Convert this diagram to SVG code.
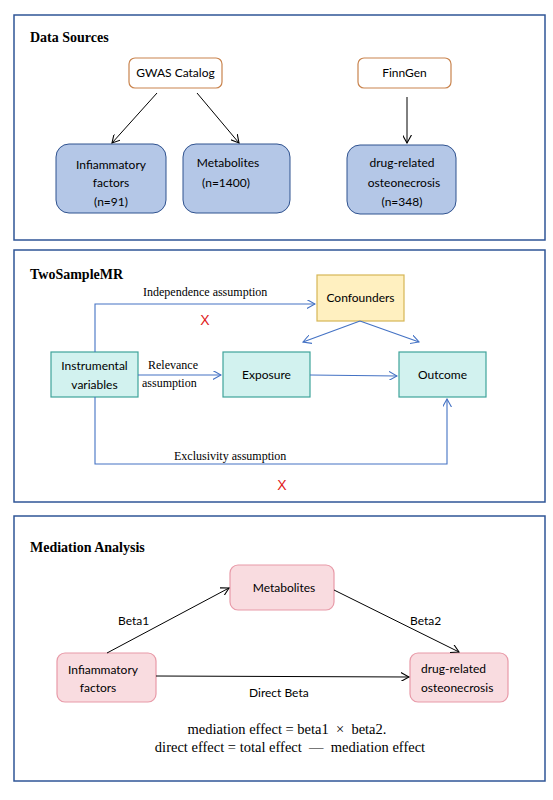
<svg xmlns="http://www.w3.org/2000/svg" width="553" height="800" viewBox="0 0 553 800">
<style>
.panel{fill:#fff;stroke:#2F5597;stroke-width:1.5}
.title{font-family:"Liberation Serif",serif;font-weight:bold;font-size:14px;fill:#000}
.sans{font-family:Lato,"Liberation Sans",sans-serif;font-size:12px;fill:#000}
.serif{font-family:"Liberation Serif",serif;font-size:12px;fill:#000}
.formula{font-family:"Liberation Serif",serif;font-size:14.5px;fill:#000}
.src{fill:#fff;stroke:#C9844E;stroke-width:1.2}
.blue{fill:#B4C7E7;stroke:#2F528F;stroke-width:1}
.cyan{fill:#D2F2EF;stroke:#3FA39A;stroke-width:1.2}
.yellow{fill:#FFF0C0;stroke:#D6B656;stroke-width:1.2}
.pink{fill:#F9DCE0;stroke:#E89AA8;stroke-width:1.2}
.blk{fill:none;stroke:#000;stroke-width:1}
.bl{fill:none;stroke:#4472C4;stroke-width:1.1}
.x{font-family:"Liberation Sans",sans-serif;font-size:14px;fill:#E0201B}
</style>
<defs>
<marker id="ak" viewBox="0 0 10 10" refX="9" refY="5" markerWidth="9" markerHeight="9" markerUnits="userSpaceOnUse" orient="auto"><path d="M0,0 L9,5 L0,10" fill="none" stroke="#000" stroke-width="1.2"/></marker>
<marker id="ab" viewBox="0 0 10 10" refX="9" refY="5" markerWidth="9" markerHeight="9" markerUnits="userSpaceOnUse" orient="auto"><path d="M0,0 L9,5 L0,10" fill="none" stroke="#4472C4" stroke-width="1.2"/></marker>
</defs>
<rect width="553" height="800" fill="#fff"/>

<g id="panel-data-sources">
<rect class="panel" x="14" y="15" width="531" height="225"/>
<text class="title" x="30" y="42">Data Sources</text>
</g>
<g id="gwas"><rect class="src" x="129" y="58" width="93" height="30" rx="6"/><text class="sans" x="175.5" y="77" text-anchor="middle">GWAS Catalog</text></g>
<g id="finngen"><rect class="src" x="358" y="58" width="93" height="30" rx="6"/><text class="sans" x="404.5" y="77" text-anchor="middle">FinnGen</text></g>
<g id="ds-inflammatory"><rect class="blue" x="56" y="144" width="110" height="69" rx="13"/>
<text class="sans" x="111" y="169" text-anchor="middle">Infiammatory</text><text class="sans" x="111" y="187" text-anchor="middle">factors</text><text class="sans" x="111" y="206" text-anchor="middle">(n=91)</text></g>
<g id="ds-metabolites"><rect class="blue" x="183" y="144" width="107" height="69" rx="13"/>
<text class="sans" x="228" y="167" text-anchor="middle">Metabolites</text><text class="sans" x="226" y="187" text-anchor="middle">(n=1400)</text></g>
<g id="ds-drug"><rect class="blue" x="347" y="145" width="109" height="69" rx="13"/>
<text class="sans" x="402" y="167" text-anchor="middle">drug-related</text><text class="sans" x="404" y="187" text-anchor="middle">osteonecrosis</text><text class="sans" x="402" y="206" text-anchor="middle">(n=348)</text></g>

<g id="panel-mr">
<rect class="panel" x="14" y="250" width="531" height="252"/>
<text class="title" x="30" y="279">TwoSampleMR</text>
</g>
<g id="confounders"><rect class="yellow" x="317" y="275" width="87" height="46"/><text class="sans" x="360.5" y="302" text-anchor="middle">Confounders</text></g>
<g id="instrumental"><rect class="cyan" x="51" y="352" width="87" height="45"/><text class="sans" x="94.5" y="370" text-anchor="middle">Instrumental</text><text class="sans" x="94.5" y="389" text-anchor="middle">variables</text></g>
<g id="exposure"><rect class="cyan" x="223" y="352" width="87" height="45"/><text class="sans" x="266.5" y="379" text-anchor="middle">Exposure</text></g>
<g id="outcome"><rect class="cyan" x="399" y="352" width="87" height="45"/><text class="sans" x="442.5" y="379" text-anchor="middle">Outcome</text></g>

<g id="panel-mediation">
<rect class="panel" x="14" y="516" width="531" height="265"/>
<text class="title" x="30" y="552">Mediation Analysis</text>
</g>
<g id="med-metabolites"><rect class="pink" x="230" y="565" width="104" height="45" rx="8"/><text class="sans" x="284" y="592" text-anchor="middle">Metabolites</text></g>
<g id="med-inflammatory"><rect class="pink" x="57" y="653" width="99" height="49" rx="8"/><text class="sans" x="103" y="674" text-anchor="middle">Infiammatory</text><text class="sans" x="98" y="692" text-anchor="middle">factors</text></g>
<g id="med-drug"><rect class="pink" x="410" y="653" width="98" height="49" rx="8"/><text class="sans" x="421" y="673">drug-related</text><text class="sans" x="421" y="692">osteonecrosis</text></g>

<g id="connectors">
<line class="blk" x1="157" y1="93" x2="112" y2="143" marker-end="url(#ak)"/>
<line class="blk" x1="197" y1="93" x2="239" y2="143" marker-end="url(#ak)"/>
<line class="blk" x1="407" y1="97" x2="407" y2="143" marker-end="url(#ak)"/>

<path class="bl" d="M95,352 V304 H315" marker-end="url(#ab)"/>
<line class="bl" x1="138" y1="375" x2="221" y2="375" marker-end="url(#ab)"/>
<line class="bl" x1="310" y1="375" x2="397" y2="376" marker-end="url(#ab)"/>
<line class="bl" x1="360" y1="321" x2="303" y2="342" marker-end="url(#ab)"/>
<line class="bl" x1="360" y1="321" x2="419" y2="342" marker-end="url(#ab)"/>
<path class="bl" d="M95,397 V464 H447 V399" marker-end="url(#ab)"/>

<line class="blk" x1="107" y1="653" x2="229" y2="588" marker-end="url(#ak)"/>
<line class="blk" x1="334" y1="590" x2="459" y2="652" marker-end="url(#ak)"/>
<line class="blk" x1="156" y1="676" x2="409" y2="677" marker-end="url(#ak)"/>
</g>

<g id="labels">
<text class="serif" x="143" y="296">Independence assumption</text>
<text class="x" x="205" y="325" text-anchor="middle">X</text>
<text class="serif" x="148" y="369">Relevance</text>
<text class="serif" x="142" y="387">assumption</text>
<text class="serif" x="174" y="460">Exclusivity assumption</text>
<text class="x" x="282" y="490" text-anchor="middle">X</text>
<text class="sans" x="118" y="625">Beta1</text>
<text class="sans" x="410" y="625">Beta2</text>
<text class="sans" x="249" y="697">Direct Beta</text>
<text class="formula" x="287" y="734" text-anchor="middle" xml:space="preserve">mediation effect = beta1  ×  beta2.</text>
<text class="formula" x="290" y="752" text-anchor="middle" xml:space="preserve">direct effect = total effect  —  mediation effect</text>
</g>
</svg>
